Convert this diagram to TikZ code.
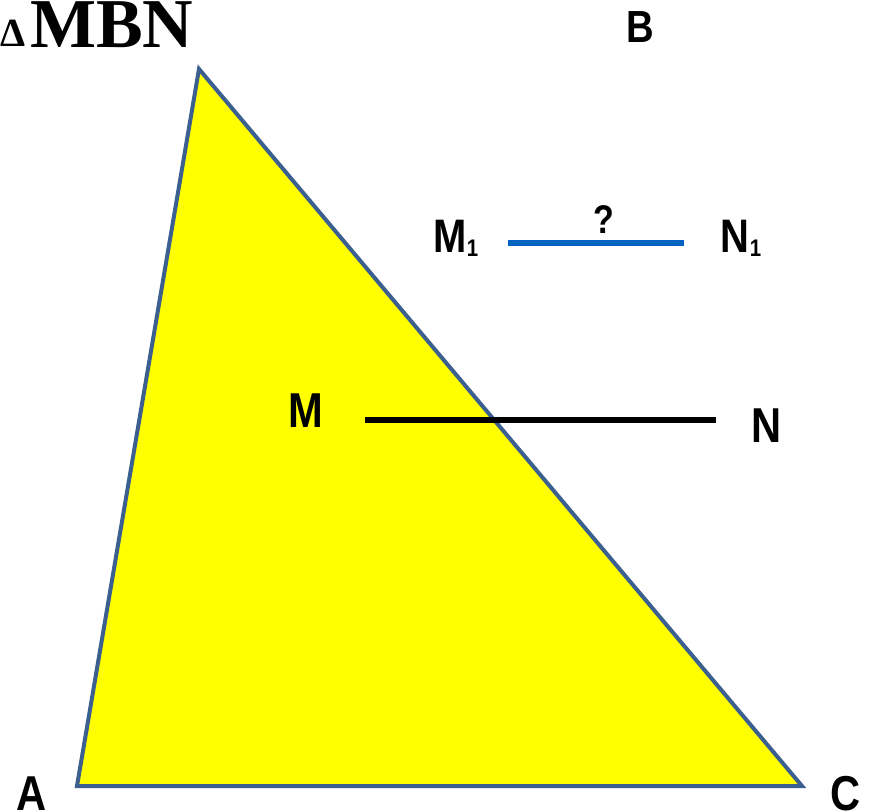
\documentclass[tikz,border=0pt]{standalone}
\usepackage{fontspec}
\setmainfont{Liberation Sans}
\newfontfamily\serifb{Liberation Serif}
\definecolor{triedge}{HTML}{3B5F8E}
\definecolor{triyellow}{HTML}{FFFF00}
\definecolor{segblue}{HTML}{0563C1}
\newcommand{\lbl}[2]{\scalebox{0.85}[1]{\fontsize{#1}{#1}\selectfont\bfseries #2}}
\begin{document}
\begin{tikzpicture}[x=1pt,y=-1pt,
  lab/.style={inner sep=0pt,anchor=base},
  tri/.style={draw=triedge,fill=triyellow,line width=4pt,line join=miter},
  seg/.style={line width=5.5pt}]
\useasboundingbox (0,0) rectangle (871,811);
% triangle
\coordinate (Bv) at (199,69);
\coordinate (Av) at (77,786);
\coordinate (Cv) at (802,786);
\draw[tri] (Bv) -- (Av) -- (Cv) -- cycle;
% segments
\coordinate (Ms) at (365,420);
\coordinate (Ns) at (716,420);
\draw[seg,black] (Ms) -- (Ns);
\coordinate (M1s) at (508,243);
\coordinate (N1s) at (684,243);
\draw[seg,segblue] (M1s) -- (N1s);
% labels
\node[lab] (lM) at (306,427) {\lbl{49}{M}};
\node[lab] (lN) at (767,442) {\lbl{49}{N}};
\node[lab] (lB) at (640,42) {\lbl{45}{B}};
\node[lab] (lA) at (32,810) {\lbl{49}{A}};
\node[lab] (lC) at (846,810) {\lbl{49}{C}};
\node[lab] (lq) at (604,233) {\lbl{40}{?}};
\node[lab] (lM1) at (456,252) {\lbl{47}{M\raisebox{-4pt}{\fontsize{24}{24}\selectfont 1}}};
\node[lab] (lN1) at (741,252) {\lbl{47}{N\raisebox{-4pt}{\fontsize{24}{24}\selectfont 1}}};
\node[lab,anchor=base west] (delta) at (0,46) {\serifb\bfseries\fontsize{40}{40}\selectfont Δ};
\node[lab,anchor=base west] (title) at (30,47) {\serifb\bfseries\fontsize{70}{70}\selectfont MBN};
\end{tikzpicture}
\end{document}
